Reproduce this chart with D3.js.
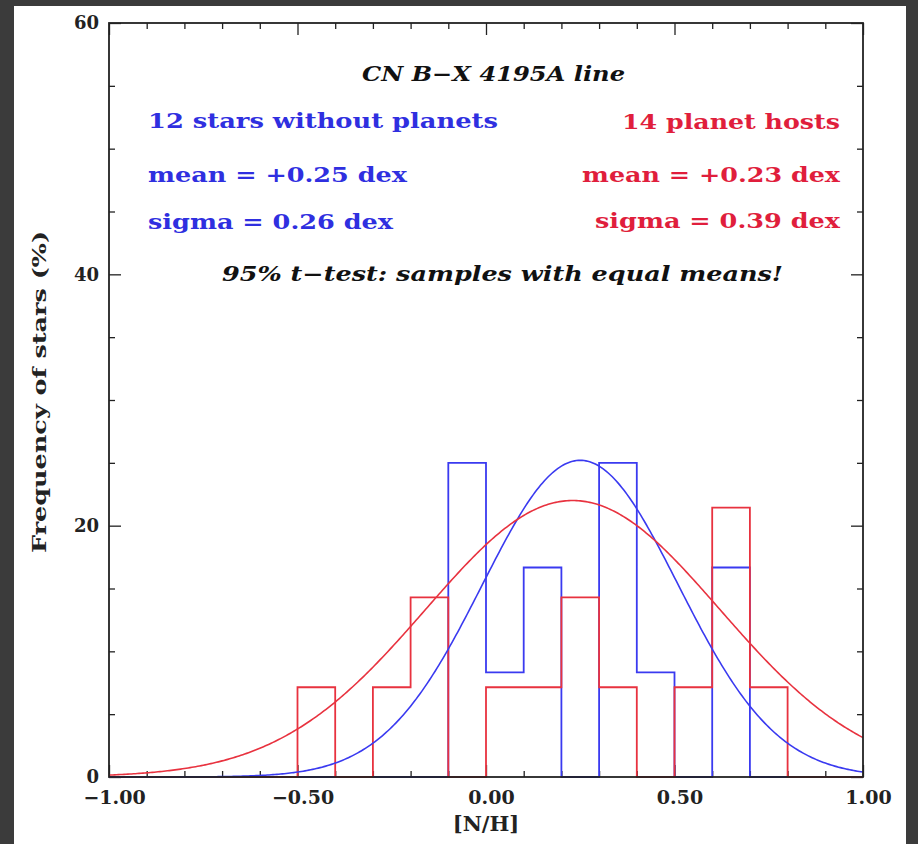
<!DOCTYPE html>
<html>
<head>
<meta charset="utf-8">
<script src="https://cdn.jsdelivr.net/npm/d3@7"></script>
<style>
  html, body { margin: 0; padding: 0; background: #3b3b3b; }
  svg { display: block; }
</style>
</head>
<body>
<svg id="chart" width="918" height="844"></svg>
<script>
// ---- data ----
const binStarts = [-1.0, -0.9, -0.8, -0.7, -0.6, -0.5, -0.4, -0.3, -0.2, -0.1,
                    0.0,  0.1,  0.2,  0.3,  0.4,  0.5,  0.6,  0.7,  0.8,  0.9];
const binWidth = 0.1;
const noPlanetFreq = [0, 0, 0, 0, 0, 0, 0, 0, 0, 25.0,
                      8.33, 16.67, 0, 25.0, 8.33, 0, 16.67, 0, 0, 0];
const hostFreq = [0, 0, 0, 0, 0, 7.14, 0, 7.14, 14.29, 0,
                  7.14, 7.14, 14.29, 7.14, 0, 7.14, 21.43, 7.14, 0, 0];
// gaussian fits: [mean, sigma, peak %]
const noPlanetFit = [0.25, 0.26, 25.2];
const hostFit = [0.23, 0.39, 22.0];

const xMajorTicks = [-1.0, -0.5, 0.0, 0.5, 1.0];
const yMajorTicks = [0, 20, 40, 60];
const xDomain = [-1.0, 1.0];
const yDomain = [0, 60];

const titleText = "CN B\u2212X 4195A line";
const noteText = "95% t\u2212test: samples with equal means!";
const blueLabels = ["12 stars without planets", "mean = +0.25 dex", "sigma = 0.26 dex"];
const redLabels = ["14 planet hosts", "mean = +0.23 dex", "sigma = 0.39 dex"];
const xTitle = "[N/H]";
const yTitle = "Frequency of stars (%)";

// ---- drawing ----
const svg = d3.select("#chart");
const BLUE = "#3a3af0", RED = "#e8323f";
const BLUE_T = "#2f2fe0", RED_T = "#e01e3c";
const FONT = "'DejaVu Serif', 'Liberation Serif', serif";

svg.append("rect").attr("x", 14).attr("y", 6).attr("width", 892).attr("height", 838).attr("fill", "#ffffff");

const L = 109, R = 863, T = 23, B = 777;
const x = d3.scaleLinear().domain(xDomain).range([L, R]);
const y = d3.scaleLinear().domain(yDomain).range([B, T]);

const xMinor = d3.range(-10, 11).map(i => i / 10).filter(v => !xMajorTicks.some(m => Math.abs(m - v) < 1e-9));
const yMinor = d3.range(0, 61, 5).filter(v => !yMajorTicks.includes(v));

function styleAxis(g) {
  g.select(".domain").remove();
  g.selectAll(".tick line").attr("stroke", "#222").attr("stroke-width", 1.3);
}

// bottom
svg.append("g").attr("transform", `translate(0,${B})`)
  .call(d3.axisBottom(x).tickValues(xMajorTicks).tickSizeInner(-12).tickSizeOuter(0)
        .tickPadding(14).tickFormat(d3.format(".2f")))
  .call(styleAxis)
  .call(g => g.selectAll("text").attr("font-family", FONT).attr("font-weight", "bold")
        .attr("font-size", 19).attr("fill", "#222").attr("dx", 5));
svg.append("g").attr("transform", `translate(0,${B})`)
  .call(d3.axisBottom(x).tickValues(xMinor).tickSizeInner(-6).tickSizeOuter(0).tickFormat(""))
  .call(styleAxis);
// top
svg.append("g").attr("transform", `translate(0,${T})`)
  .call(d3.axisTop(x).tickValues(xMajorTicks).tickSizeInner(-12).tickSizeOuter(0).tickFormat(""))
  .call(styleAxis);
svg.append("g").attr("transform", `translate(0,${T})`)
  .call(d3.axisTop(x).tickValues(xMinor).tickSizeInner(-6).tickSizeOuter(0).tickFormat(""))
  .call(styleAxis);
// left
svg.append("g").attr("transform", `translate(${L},0)`)
  .call(d3.axisLeft(y).tickValues(yMajorTicks).tickSizeInner(-12).tickSizeOuter(0)
        .tickPadding(10).tickFormat(d3.format("d")))
  .call(styleAxis)
  .call(g => g.selectAll("text").attr("font-family", FONT).attr("font-weight", "bold")
        .attr("font-size", 18).attr("fill", "#222"));
svg.append("g").attr("transform", `translate(${L},0)`)
  .call(d3.axisLeft(y).tickValues(yMinor).tickSizeInner(-6).tickSizeOuter(0).tickFormat(""))
  .call(styleAxis);
// right
svg.append("g").attr("transform", `translate(${R},0)`)
  .call(d3.axisRight(y).tickValues(yMajorTicks).tickSizeInner(-12).tickSizeOuter(0).tickFormat(""))
  .call(styleAxis);
svg.append("g").attr("transform", `translate(${R},0)`)
  .call(d3.axisRight(y).tickValues(yMinor).tickSizeInner(-6).tickSizeOuter(0).tickFormat(""))
  .call(styleAxis);

// histograms as step outlines
function stepPoints(freqs) {
  const pts = binStarts.map((s, i) => [s, freqs[i]]);
  pts.push([binStarts[binStarts.length - 1] + binWidth, freqs[freqs.length - 1]]);
  return pts;
}
const stepLine = d3.line().x(d => x(d[0])).y(d => y(d[1])).curve(d3.curveStepAfter);
svg.append("path").attr("d", stepLine(stepPoints(noPlanetFreq)))
  .attr("fill", "none").attr("stroke", BLUE).attr("stroke-width", 1.8);
svg.append("path").attr("d", stepLine(stepPoints(hostFreq)))
  .attr("fill", "none").attr("stroke", RED).attr("stroke-width", 1.8);

// gaussian fit curves
function gauss(fit) {
  const [m, s, a] = fit;
  return d3.range(0, 401).map(i => {
    const xv = xDomain[0] + (xDomain[1] - xDomain[0]) * i / 400;
    return [xv, a * Math.exp(-0.5 * ((xv - m) / s) ** 2)];
  });
}
const curve = d3.line().x(d => x(d[0])).y(d => y(d[1])).curve(d3.curveLinear);
svg.append("path").attr("d", curve(gauss(noPlanetFit)))
  .attr("fill", "none").attr("stroke", BLUE).attr("stroke-width", 1.6);
svg.append("path").attr("d", curve(gauss(hostFit)))
  .attr("fill", "none").attr("stroke", RED).attr("stroke-width", 1.6);

// frame
svg.append("rect").attr("x", L).attr("y", T).attr("width", R - L).attr("height", B - T)
  .attr("fill", "none").attr("stroke", "#222").attr("stroke-width", 1.8);

// texts
function txt(str, px, py, opts) {
  const t = svg.append("text").attr("x", px).attr("y", py).text(str)
    .attr("font-family", FONT).attr("font-weight", "bold")
    .attr("font-size", opts.size || 21).attr("fill", opts.fill || "#111")
    .attr("text-anchor", opts.anchor || "start");
  if (opts.italic) t.attr("font-style", "italic");
  if (opts.len) t.attr("textLength", opts.len).attr("lengthAdjust", "spacingAndGlyphs");
  return t;
}
txt(titleText, 362, 81, {italic: true, len: 263, size: 20});
txt(blueLabels[0], 148, 128, {fill: BLUE_T, len: 350});
txt(blueLabels[1], 148, 182, {fill: BLUE_T, len: 259});
txt(blueLabels[2], 148, 229, {fill: BLUE_T, len: 245});
txt(redLabels[0], 840, 129, {fill: RED_T, len: 218, anchor: "end"});
txt(redLabels[1], 840, 182, {fill: RED_T, len: 258, anchor: "end"});
txt(redLabels[2], 840, 228, {fill: RED_T, len: 245, anchor: "end"});
txt(noteText, 222, 281, {italic: true, len: 561, size: 20});

txt(xTitle, 486, 831, {anchor: "middle", size: 21, fill: "#222"});
svg.append("text").attr("transform", "translate(46,392) rotate(-90)")
  .attr("text-anchor", "middle").attr("font-family", FONT).attr("font-weight", "bold")
  .attr("font-size", 19).attr("fill", "#222").text(yTitle)
  .attr("textLength", 322).attr("lengthAdjust", "spacingAndGlyphs");
</script>
</body>
</html>
